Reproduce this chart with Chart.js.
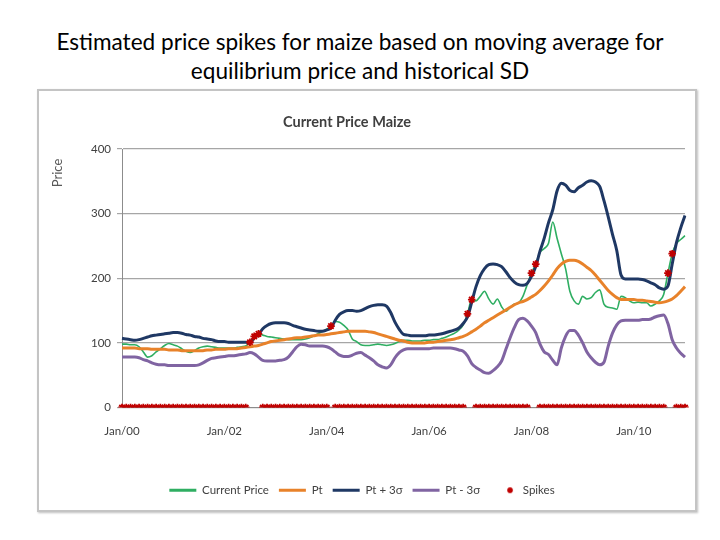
<!DOCTYPE html>
<html>
<head>
<meta charset="utf-8">
<script src="https://cdn.jsdelivr.net/npm/chart.js@4/dist/chart.umd.min.js"></script>
<style>
  html, body { margin: 0; padding: 0; background: #ffffff; }
  body { width: 720px; height: 540px; position: relative; overflow: hidden; font-family: Lato, "Open Sans", sans-serif; }
  #title { position: absolute; left: 0; top: 27px; width: 720px; text-align: center; font-size: 22.6px; line-height: 29px; color: #000; }
  #box { position: absolute; left: 37px; top: 89px; width: 660px; height: 423px; box-sizing: border-box; border: 2px solid #c4c4c4; box-shadow: 1px 1px 2px rgba(0,0,0,0.25); background: #fff; }
  #box canvas { display: block; }
</style>
</head>
<body>
<div id="title">Estimated price spikes for maize based on moving average for<br>equilibrium price and historical SD</div>
<div id="box"><canvas id="c" width="656" height="419"></canvas></div>
<script>
const monthNames = ['Jan','Feb','Mar','Apr','May','Jun','Jul','Aug','Sep','Oct','Nov','Dec'];
const yearCodes = ['00','01','02','03','04','05','06','07','08','09','10','11'];
const seriesNames = ['Current Price', 'Pt', 'Pt + 3\u03c3', 'Pt - 3\u03c3', 'Spikes'];
const yTicks = [0, 100, 200, 300, 400];
const chartTitle = 'Current Price Maize';
const axisTitle = 'Price';

const currentPrice = [
  98,98,97,97,94,86,78,80,86,91,
  96,99,97,95,91,87,85,88,92,94,
  95,94,93,92,92,92,92,93,94,95,
  101,110,114,112,110,109,108,107,106,105,
  105,105,105,106,108,111,114,118,121,126,
  133,132,127,120,106,102,97,96,96,97,
  98,97,96,97,99,102,104,104,103,103,
  103,104,104,105,105,107,109,112,115,120,
  128,145,167,165,172,180,168,160,168,156,
  149,155,160,162,172,190,208,222,240,246,
  254,287,262,238,215,180,165,160,172,168,
  170,178,182,160,155,154,152,172,170,165,
  162,163,162,162,157,160,165,175,208,238,
  254,260,266
];
const pt = [
  92,92,92,92,91,91,91,90,90,90,
  90,89,89,89,88,88,88,88,88,88,
  89,89,90,90,90,91,91,91,92,93,
  94,95,96,98,100,102,103,104,105,106,
  107,108,108,109,110,111,112,112,113,114,
  115,116,117,118,118,118,118,118,117,116,
  114,112,110,108,106,104,103,101,100,100,
  100,100,101,101,102,103,104,105,106,108,
  110,113,117,121,126,131,135,139,143,147,
  151,155,159,162,164,167,171,175,181,188,
  196,205,215,222,226,228,228,226,222,217,
  212,205,197,189,181,175,170,167,167,167,
  167,166,166,165,164,163,162,163,165,168,
  173,180,187
];
const ptPlus = [
  107,106,105,104,105,107,109,111,112,113,
  114,115,116,116,115,113,112,110,109,107,
  106,105,103,102,102,101,101,101,101,101,
  100,108,113,122,127,130,131,131,131,130,
  127,125,123,121,120,119,118,118,120,123,
  135,144,148,150,150,149,150,153,156,158,
  159,159,157,147,132,121,113,112,111,111,
  111,111,112,112,113,114,116,118,120,123,
  130,140,163,187,204,215,221,222,221,218,
  210,201,194,190,189,192,203,218,242,262,
  286,306,335,347,344,336,334,340,344,349,
  351,349,342,320,295,268,243,205,199,199,
  199,199,198,196,193,190,185,183,188,222,
  255,278,297
];
const ptMinus = [
  78,78,78,78,77,74,72,69,67,66,
  66,65,65,65,65,65,65,65,66,69,
  73,76,77,78,79,80,80,81,82,83,
  85,83,78,73,72,72,72,73,74,78,
  86,94,98,97,95,95,95,95,94,91,
  86,81,79,79,81,84,85,81,77,72,
  66,63,61,66,77,85,89,91,91,91,
  91,91,91,92,92,92,92,92,91,89,
  87,80,68,62,58,54,53,57,63,72,
  90,108,124,136,138,134,126,116,98,86,
  82,73,66,92,110,119,119,112,100,86,
  77,70,66,70,95,115,128,134,135,135,
  135,135,136,136,137,140,142,143,130,105,
  92,84,78
];
const spikes = [
  0,0,0,0,0,0,0,0,0,0,
  0,0,0,0,0,0,0,0,0,0,
  0,0,0,0,0,0,0,0,0,0,
  101,110,114,0,0,0,0,0,0,0,
  0,0,0,0,0,0,0,0,0,126,
  0,0,0,0,0,0,0,0,0,0,
  0,0,0,0,0,0,0,0,0,0,
  0,0,0,0,0,0,0,0,0,0,
  0,145,167,0,0,0,0,0,0,0,
  0,0,0,0,0,0,208,222,0,0,
  0,0,0,0,0,0,0,0,0,0,
  0,0,0,0,0,0,0,0,0,0,
  0,0,0,0,0,0,0,0,208,238,
  0,0,0
];

const labels = [];
for (const y of yearCodes) for (const m of monthNames) labels.push(m + '/' + y);
labels.length = currentPrice.length;

const colors = ['#2fae62', '#e8822a', '#1f3864', '#8064a2', '#c00000'];

// small star image for the legend
const starImg = document.createElement('canvas');
starImg.width = 27; starImg.height = 12;
(function () {
  const g = starImg.getContext('2d');
  g.strokeStyle = colors[4]; g.lineWidth = 1.6;
  const cx = 20, cy = 6, r = 3;
  g.beginPath();
  for (let k = 0; k < 4; k++) {
    const a = k * Math.PI / 4;
    g.moveTo(cx - r * Math.cos(a), cy - r * Math.sin(a));
    g.lineTo(cx + r * Math.cos(a), cy + r * Math.sin(a));
  }
  g.stroke();
})();

const texts = {
  id: 'texts',
  afterDraw(chart) {
    const ctx = chart.ctx;
    ctx.save();
    ctx.fillStyle = '#3f3f3f';
    ctx.textAlign = 'center';
    ctx.textBaseline = 'middle';
    ctx.font = 'bold 14.5px Lato';
    ctx.fillText(chartTitle, 308, 31);
    ctx.translate(19, 82);
    ctx.rotate(-Math.PI / 2);
    ctx.font = '13px Lato';
    ctx.fillStyle = '#595959';
    ctx.fillText(axisTitle, 0, 0);
    ctx.restore();
  }
};

const lineDs = (i, data, width, order) => ({
  label: seriesNames[i], data, borderColor: colors[i], backgroundColor: colors[i],
  borderWidth: width, pointRadius: 0, pointHoverRadius: 0, fill: false,
  cubicInterpolationMode: 'monotone', order
});

new Chart(document.getElementById('c'), {
  type: 'line',
  data: {
    labels,
    datasets: [
      lineDs(0, currentPrice, 1.6, 4),
      lineDs(1, pt, 3, 3),
      lineDs(2, ptPlus, 3, 2),
      lineDs(3, ptMinus, 3, 1),
      {
        label: seriesNames[4], data: spikes, showLine: false,
        borderColor: colors[4], backgroundColor: colors[4],
        pointStyle: 'star', pointRadius: 3.8, pointBorderWidth: 1.8, pointHoverRadius: 3.8, order: 0
      }
    ]
  },
  options: {
    responsive: false,
    animation: false,
    layout: { padding: { left: 0, right: 10, top: 58, bottom: 4 } },
    scales: {
      x: {
        type: 'category',
        offset: false,
        grid: { display: false, drawTicks: false },
        border: { display: true, color: '#8c8c8c', width: 1 },
        ticks: {
          autoSkip: false, maxRotation: 0, minRotation: 0, padding: 17,
          color: '#404040', font: { size: 11.5, family: 'Lato' },
          callback: (v, i) => (i % 24 === 0 ? labels[i] : '')
        },
        afterFit: s => { s.height = 67; s.paddingLeft = 0; s.paddingRight = 0; }
      },
      y: {
        min: 0, max: 400,
        afterBuildTicks: s => { s.ticks = yTicks.map(v => ({ value: v })); },
        grid: { color: '#a6a6a6', lineWidth: 1.2, tickLength: 5, drawTicks: true },
        border: { display: true, color: '#8c8c8c', width: 1 },
        ticks: { padding: 6, color: '#404040', font: { size: 11.5, family: 'Lato' } },
        afterFit: s => { s.width = 83; s.paddingTop = 0; s.paddingBottom = 0; }
      }
    },
    plugins: {
      title: { display: false },
      legend: {
        position: 'bottom',
        labels: {
          usePointStyle: true, pointStyleWidth: 27, padding: 10,
          color: '#404040', font: { size: 11.5, family: 'Lato' },
          generateLabels: chart => chart.data.datasets.map((d, i) => ({
            text: d.label, datasetIndex: i, hidden: false,
            fillStyle: colors[i], strokeStyle: colors[i], lineWidth: 3,
            pointStyle: i === 4 ? starImg : 'line', fontColor: '#404040'
          }))
        }
      },
      tooltip: { enabled: false }
    }
  },
  plugins: [texts]
});
</script>
</body>
</html>
